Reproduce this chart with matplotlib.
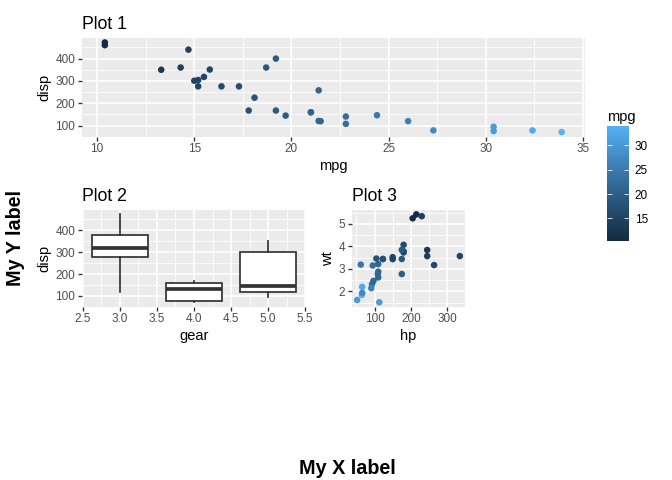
import numpy as np
import matplotlib
matplotlib.use("Agg")
from matplotlib import pyplot as plt
from matplotlib.colors import ListedColormap, to_rgb
from matplotlib.ticker import FormatStrFormatter

plt.rcParams['font.family'] = ['Liberation Sans', 'DejaVu Sans']

# mtcars columns used in the plots
mpg = np.array([21.0, 21.0, 22.8, 21.4, 18.7, 18.1, 14.3, 24.4, 22.8, 19.2, 17.8,
                16.4, 17.3, 15.2, 10.4, 10.4, 14.7, 32.4, 30.4, 33.9, 21.5, 15.5,
                15.2, 13.3, 19.2, 27.3, 26.0, 30.4, 15.8, 19.7, 15.0, 21.4])
disp = np.array([160, 160, 108, 258, 360, 225, 360, 146.7, 140.8, 167.6, 167.6,
                 275.8, 275.8, 275.8, 472, 460, 440, 78.7, 75.7, 71.1, 120.1, 318,
                 304, 350, 400, 79, 120.3, 95.1, 351, 145, 301, 121])
hp = np.array([110, 110, 93, 110, 175, 105, 245, 62, 95, 123, 123, 180, 180, 180,
               205, 215, 230, 66, 52, 65, 97, 150, 150, 245, 175, 66, 91, 113, 264,
               175, 335, 109])
wt = np.array([2.620, 2.875, 2.320, 3.215, 3.440, 3.460, 3.570, 3.190, 3.150, 3.440,
               3.440, 4.070, 3.730, 3.780, 5.250, 5.424, 5.345, 2.200, 1.615, 1.835,
               2.465, 3.520, 3.435, 3.840, 3.845, 1.935, 2.140, 1.513, 3.170, 2.770,
               3.570, 2.780])
gear = np.array([4, 4, 4, 3, 3, 3, 3, 4, 4, 4, 4, 3, 3, 3, 3, 3, 3, 4, 4, 4, 3, 3,
                 3, 3, 3, 4, 5, 5, 5, 5, 5, 4])

gear_levels = [3, 4, 5]
mpg_ticks = [15, 20, 25, 30]

W, H = 672, 480
GRID_BG = '#EBEBEB'
TXT = '#4D4D4D'

# ggplot style gradient: interpolate low -> high in CIELAB
WHITE = np.array([0.95047, 1.0, 1.08883])
M = np.array([[0.4124, 0.3576, 0.1805], [0.2126, 0.7152, 0.0722], [0.0193, 0.1192, 0.9505]])

def rgb2lab(c):
    c = np.array(to_rgb(c))
    lin = np.where(c <= 0.04045, c / 12.92, ((c + 0.055) / 1.055) ** 2.4)
    xyz = M @ lin / WHITE
    f = np.where(xyz > 0.008856, np.cbrt(xyz), 7.787 * xyz + 16 / 116)
    return np.array([116 * f[1] - 16, 500 * (f[0] - f[1]), 200 * (f[1] - f[2])])

def lab2rgb(lab):
    fy = (lab[1 - 1] + 16) / 116
    fx = fy + lab[1] / 500
    fz = fy - lab[2] / 200
    f = np.array([fx, fy, fz])
    xyz = np.where(f ** 3 > 0.008856, f ** 3, (f - 16 / 116) / 7.787) * WHITE
    lin = np.linalg.solve(M, xyz)
    c = np.where(lin <= 0.0031308, 12.92 * lin, 1.055 * np.clip(lin, 0, None) ** (1 / 2.4) - 0.055)
    return np.clip(c, 0, 1)

lo, hi = rgb2lab('#132B43'), rgb2lab('#56B1F7')
cmap = ListedColormap([lab2rgb(lo + t * (hi - lo)) for t in np.linspace(0, 1, 256)])

fig = plt.figure(figsize=(7, 5), dpi=96)

def px_axes(x0, y0, x1, y1):
    return fig.add_axes([x0 / W, 1 - y1 / H, (x1 - x0) / W, (y1 - y0) / H])

def expand(v, frac=0.05):
    r = v.max() - v.min()
    return v.min() - frac * r, v.max() + frac * r

def gg_style(ax, xmajor, xminor, ymajor, yminor):
    ax.set_facecolor(GRID_BG)
    for s in ax.spines.values():
        s.set_visible(False)
    ax.set_xticks(xmajor)
    ax.set_yticks(ymajor)
    ax.set_xticks(xminor, minor=True)
    ax.set_yticks(yminor, minor=True)
    ax.grid(which='major', color='white', lw=1.2)
    ax.grid(which='minor', color='white', lw=0.6)
    ax.set_axisbelow(True)
    ax.tick_params(which='major', length=2.75, width=1.0, color='#333333',
                   labelsize=8.8, labelcolor=TXT, pad=2.2)
    ax.tick_params(which='minor', length=0)

# Plot 1
ax1 = px_axes(82, 38, 584.5, 136.6)
ax1.scatter(mpg, disp, c=mpg, cmap=cmap, vmin=mpg.min(), vmax=mpg.max(), s=24,
            linewidths=0, zorder=3)
ax1.set_xlim(expand(mpg))
ax1.set_ylim(expand(disp))
gg_style(ax1, [10, 15, 20, 25, 30, 35], [12.5, 17.5, 22.5, 27.5, 32.5],
         [100, 200, 300, 400], [150, 250, 350, 450])
ax1.set_xlabel('mpg', fontsize=11, labelpad=3)
ax1.set_ylabel('disp', fontsize=11, labelpad=3)
ax1.set_title('Plot 1', loc='left', fontsize=13.2, pad=7)

# Plot 2
ax2 = px_axes(82, 210, 306, 306.7)
box_data = [disp[gear == g] for g in gear_levels]
ax2.boxplot(box_data, positions=gear_levels, widths=0.75, patch_artist=True,
            showcaps=False, showfliers=False, manage_ticks=False,
            boxprops=dict(facecolor='white', edgecolor='#333333', lw=1.3),
            whiskerprops=dict(color='#333333', lw=1.3),
            medianprops=dict(color='#333333', lw=2.8), zorder=3)
ax2.set_xlim(expand(np.array([2.625, 5.375])))
ax2.set_ylim(expand(disp))
gg_style(ax2, [2.5, 3.0, 3.5, 4.0, 4.5, 5.0, 5.5],
         [2.75, 3.25, 3.75, 4.25, 4.75, 5.25],
         [100, 200, 300, 400], [150, 250, 350, 450])
ax2.xaxis.set_major_formatter(FormatStrFormatter('%.1f'))
ax2.set_xlabel('gear', fontsize=11, labelpad=3)
ax2.set_ylabel('disp', fontsize=11, labelpad=3)
ax2.set_title('Plot 2', loc='left', fontsize=13.2, pad=7)

# Plot 3
ax3 = px_axes(352, 210, 465, 306.7)
ax3.scatter(hp, wt, c=mpg, cmap=cmap, vmin=mpg.min(), vmax=mpg.max(), s=24,
            linewidths=0, zorder=3)
ax3.set_xlim(expand(hp))
ax3.set_ylim(expand(wt))
gg_style(ax3, [100, 200, 300], [50, 150, 250],
         [2, 3, 4, 5], [1.5, 2.5, 3.5, 4.5, 5.5])
ax3.set_xlabel('hp', fontsize=11, labelpad=3)
ax3.set_ylabel('wt', fontsize=11, labelpad=3)
ax3.set_title('Plot 3', loc='left', fontsize=13.2, pad=7)

# colour bar
cax = px_axes(606.7, 126, 629.3, 241)
sm = plt.cm.ScalarMappable(cmap=cmap, norm=plt.Normalize(mpg.min(), mpg.max()))
cb = fig.colorbar(sm, cax=cax, ticks=mpg_ticks)
cb.outline.set_visible(False)
cax.tick_params(left=True, right=True, labelleft=False, labelright=True,
                direction='in', color='white', length=3.4, width=0.6,
                labelsize=8.8, labelcolor='black', pad=4)
fig.text(606.7 / W, 1 - 117 / H, 'mpg', fontsize=11, va='center', ha='left')

fig.text(347 / W, 1 - 468 / H, 'My X label', fontsize=14.8, fontweight='bold',
         ha='center', va='center')
fig.text(16 / W, 1 - 238 / H, 'My Y label', fontsize=14.8, fontweight='bold',
         ha='center', va='center', rotation=90)

fig.savefig('out.png', dpi=96)
